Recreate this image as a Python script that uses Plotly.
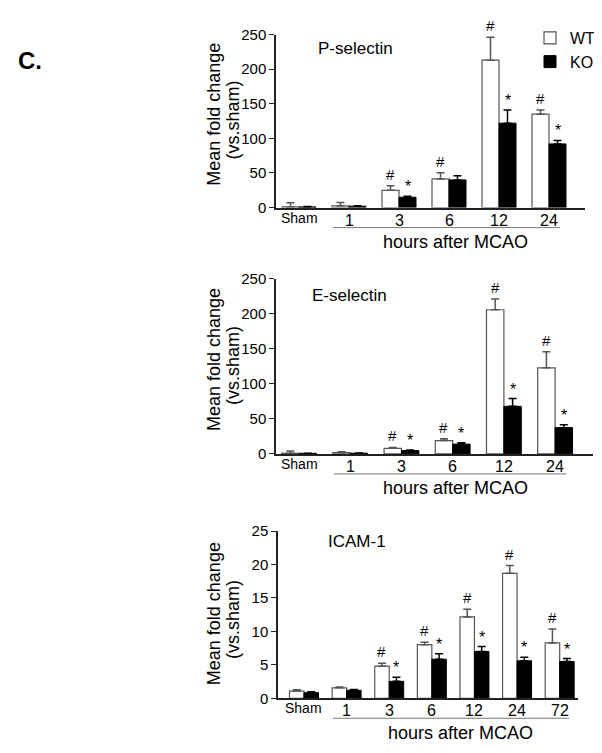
import plotly.graph_objects as go

FONT = "Liberation Sans, Arial, sans-serif"

# ---------------- data ----------------
# P-selectin
p_labels = ["Sham", "1", "3", "6", "12", "24"]
p_wt = [1, 2.5, 25, 41.5, 213, 135]
p_wt_err = [6, 5, 6.5, 9, 33, 6]
p_ko = [1, 2, 15, 40, 122, 92]
p_ko_err = [0.5, 0.5, 1.5, 6, 19, 5]
p_wt_mark = ["", "", "#", "#", "#", "#"]
p_ko_mark = ["", "", "*", "", "*", "*"]

# E-selectin
e_labels = ["Sham", "1", "3", "6", "12", "24"]
e_wt = [1, 2, 8, 19, 206, 123]
e_wt_err = [3, 1, 1.3, 2.5, 15.5, 23]
e_ko = [0.8, 1, 4.7, 14, 68, 37.5]
e_ko_err = [0.3, 0.3, 0.9, 2, 11, 4]
e_wt_mark = ["", "", "#", "#", "#", "#"]
e_ko_mark = ["", "", "*", "*", "*", "*"]

# ICAM-1
i_labels = ["Sham", "1", "3", "6", "12", "24", "72"]
i_wt = [1.07, 1.56, 4.8, 8.02, 12.16, 18.68, 8.27]
i_wt_err = [0.19, 0.14, 0.45, 0.35, 1.17, 1.16, 2.09]
i_ko = [0.83, 1.2, 2.53, 5.84, 7.0, 5.6, 5.5]
i_ko_err = [0.14, 0.1, 0.63, 0.82, 0.73, 0.53, 0.43]
i_wt_mark = ["", "", "#", "#", "#", "#", "#"]
i_ko_mark = ["", "", "*", "*", "*", "*", "*"]

panel_titles = ["P-selectin", "E-selectin", "ICAM-1"]
y_title_1 = "Mean fold change"
y_title_2 = "(vs.sham)"
x_title = "hours after MCAO"

# ---------------- layout geometry ----------------
W, H = 602, 753
BARGAP = 0.32
panels = [
    dict(labels=p_labels, wt=p_wt, wte=p_wt_err, ko=p_ko, koe=p_ko_err,
         wm=p_wt_mark, km=p_ko_mark, xdom=(268, 577), ydom=(195, 18),
         xr=(-0.46, 5.72), yr=(0, 250), dt=50, title_xy=(308, 32),
         ytitle_y=100, xtitle_x=447, num_shift=-13, xt_shift=-34),
    dict(labels=e_labels, wt=e_wt, wte=e_wt_err, ko=e_ko, koe=e_ko_err,
         wm=e_wt_mark, km=e_ko_mark, xdom=(268, 585), ydom=(447, 268),
         xr=(-0.45, 5.74), yr=(0, 250), dt=50, title_xy=(302, 285),
         ytitle_y=351, xtitle_x=447, num_shift=-13, xt_shift=-34),
    dict(labels=i_labels, wt=i_wt, wte=i_wt_err, ko=i_ko, koe=i_ko_err,
         wm=i_wt_mark, km=i_ko_mark, xdom=(270, 570), ydom=(697, 526),
         xr=(-0.61, 6.43), yr=(0, 25), dt=5, title_xy=(318, 537),
         ytitle_y=611, xtitle_x=452, num_shift=-12, xt_shift=-35),
]

fig = go.Figure()
annotations = []
shapes = []
layout = {}
half = (1 - BARGAP) / 4  # offset of each bar center from group center

for k, p in enumerate(panels):
    sfx = "" if k == 0 else str(k + 1)
    xa, ya = "x" + sfx, "y" + sfx
    pos = list(range(len(p["labels"])))
    fig.add_trace(go.Bar(
        x=pos, y=p["wt"], name="WT", legendgroup="WT", showlegend=(k == 0),
        xaxis=xa, yaxis=ya,
        marker=dict(color="white", line=dict(color="#555555", width=1.2)),
        error_y=dict(type="data", array=p["wte"], arrayminus=[0] * len(pos),
                     symmetric=False, color="#555555", thickness=1.5, width=4),
    ))
    fig.add_trace(go.Bar(
        x=pos, y=p["ko"], name="KO", legendgroup="KO", showlegend=(k == 0),
        xaxis=xa, yaxis=ya,
        marker=dict(color="black", line=dict(color="black", width=1)),
        error_y=dict(type="data", array=p["koe"], arrayminus=[0] * len(pos),
                     symmetric=False, color="black", thickness=1.5, width=4),
    ))
    layout["xaxis" + sfx] = dict(
        domain=[p["xdom"][0] / W, p["xdom"][1] / W], range=list(p["xr"]),
        anchor=ya, showline=True, linecolor="#222222", linewidth=1.5,
        showgrid=False, zeroline=False, showticklabels=False, ticks="",
        fixedrange=True,
    )
    layout["yaxis" + sfx] = dict(
        domain=[1 - p["ydom"][0] / H, 1 - p["ydom"][1] / H], range=list(p["yr"]),
        anchor=xa, showline=True, linecolor="#222222", linewidth=1.5,
        showgrid=False, zeroline=False, ticks="outside", ticklen=5,
        tickcolor="#222222", tickwidth=1.2, dtick=p["dt"], tick0=0,
        tickfont=dict(family=FONT, size=15, color="black"), fixedrange=True,
    )
    # category labels
    for i, lab in enumerate(p["labels"]):
        annotations.append(dict(
            x=i, y=0, xref=xa, yref=ya + " domain", text=lab, showarrow=False,
            yanchor="middle", xanchor="center",
            yshift=-10 if lab == "Sham" else p["num_shift"],
            font=dict(family=FONT, size=14 if lab == "Sham" else 16, color="black"),
        ))
    # significance marks
    for i in pos:
        if p["wm"][i]:
            annotations.append(dict(
                x=i - half, y=p["wt"][i] + p["wte"][i], xref=xa, yref=ya,
                text=p["wm"][i], showarrow=False, yanchor="bottom", yshift=1,
                font=dict(family=FONT, size=15, color="black"),
            ))
        if p["km"][i]:
            annotations.append(dict(
                x=i + half, y=p["ko"][i] + p["koe"][i], xref=xa, yref=ya,
                text=p["km"][i], showarrow=False, yanchor="bottom", yshift=-1,
                font=dict(family=FONT, size=16, color="black"),
            ))
    # underline below hour labels
    shapes.append(dict(
        type="line", xref=xa, yref=ya + " domain", ysizemode="pixel", yanchor=0,
        x0=1 - 0.32, x1=len(pos) - 1 + 0.22, y0=-20, y1=-20,
        line=dict(color="#777777", width=1),
    ))
    # x title
    annotations.append(dict(
        x=p["xtitle_x"] / W, y=0, xref="paper", yref=ya + " domain",
        text=x_title, showarrow=False, xanchor="center", yanchor="middle",
        yshift=p["xt_shift"], font=dict(family=FONT, size=18, color="black"),
    ))
    # y title (two lines)
    annotations.append(dict(
        x=206 / W, y=1 - p["ytitle_y"] / H, xref="paper", yref="paper",
        text=y_title_1, showarrow=False, textangle=-90,
        xanchor="center", yanchor="middle",
        font=dict(family=FONT, size=18, color="black"),
    ))
    annotations.append(dict(
        x=225 / W, y=1 - (p["ytitle_y"] + 6) / H, xref="paper", yref="paper",
        text=y_title_2, showarrow=False, textangle=-90,
        xanchor="center", yanchor="middle",
        font=dict(family=FONT, size=18, color="black"),
    ))
    # panel title
    annotations.append(dict(
        x=p["title_xy"][0] / W, y=1 - p["title_xy"][1] / H, xref="paper",
        yref="paper", text=panel_titles[k], showarrow=False,
        xanchor="left", yanchor="middle",
        font=dict(family=FONT, size=17, color="black"),
    ))

# panel letter
annotations.append(dict(
    x=8 / W, y=1 - 45 / H, xref="paper", yref="paper", text="<b>C.</b>",
    showarrow=False, xanchor="left", yanchor="middle",
    font=dict(family=FONT, size=24, color="black"),
))

fig.update_layout(
    width=W, height=H, autosize=False,
    margin=dict(l=0, r=0, t=0, b=0),
    paper_bgcolor="white", plot_bgcolor="white",
    barmode="group", bargap=BARGAP, bargroupgap=0,
    showlegend=True,
    legend=dict(x=522 / W, y=1 - 4 / H, xanchor="left", yanchor="top",
                bgcolor="rgba(0,0,0,0)", font=dict(family=FONT, size=16, color="black"),
                tracegroupgap=0),
    annotations=annotations, shapes=shapes,
    **layout,
)

fig.write_html("out.html")
